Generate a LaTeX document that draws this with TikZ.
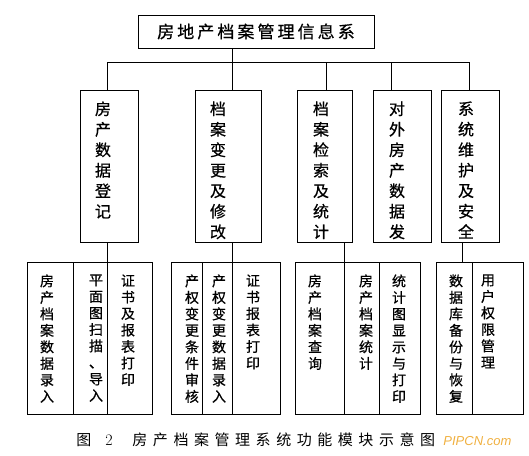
\documentclass[tikz,border=0pt]{standalone}
\usepackage{fontspec}
\newfontfamily\cjk[FakeBold=0.6]{Noto Sans CJK SC}
\newfontfamily\cjktitle[LetterSpace=18,FakeBold=0.6]{Noto Sans CJK SC}
\newfontfamily\cjkcap[LetterSpace=37]{Noto Sans CJK SC}
\newfontfamily\cjkplain{Noto Sans CJK SC}
\setsansfont{Liberation Sans}
\definecolor{wmcol}{RGB}{240,176,64}
\begin{document}
\begin{tikzpicture}[x=1pt,y=-1pt,line width=0.9pt,
  box/.style={draw,inner sep=0pt,anchor=north west},
  vt/.style={anchor=north,inner sep=0pt,align=center,font=\cjk\fontsize{16}{20.5}\selectfont},
  st/.style={anchor=north,inner sep=0pt,align=center,font=\cjk\fontsize{14}{16.5}\selectfont}]
\useasboundingbox (0,0) rectangle (529,455);
% top
\node[draw,inner sep=0pt,minimum width=236,minimum height=33,font=\cjktitle\fontsize{17}{17}\selectfont] (T) at (256,31.5) {房地产档案管理信息系};
% level 2 boxes
\node[box,minimum width=58,minimum height=152] (b1) at (80,90) {};
\node[box,minimum width=66,minimum height=152] (b2) at (195,90) {};
\node[box,minimum width=55,minimum height=152] (b3) at (297,90) {};
\node[box,minimum width=58,minimum height=152] (b4) at (373,90) {};
\node[box,minimum width=58,minimum height=152] (b5) at (441,90) {};
\node[vt] (t1) at (103,101) {房\\产\\数\\据\\登\\记};
\node[vt] (t2) at (218,101) {档\\案\\变\\更\\及\\修\\改};
\node[vt] (t3) at (321,101) {档\\案\\检\\索\\及\\统\\计};
\node[vt] (t4) at (397,101) {对\\外\\房\\产\\数\\据\\发};
\node[vt] (t5) at (466,101) {系\\统\\维\\护\\及\\安\\全};
% bottom groups
\node[box,minimum width=46,minimum height=152] (g11) at (27,262) {};
\node[box,minimum width=34,minimum height=152] (g12) at (73,262) {};
\node[box,minimum width=45,minimum height=152] (g13) at (107,262) {};
\node[box,minimum width=31,minimum height=152] (g21) at (171,262) {};
\node[box,minimum width=30,minimum height=152] (g22) at (202,262) {};
\node[box,minimum width=48,minimum height=152] (g23) at (232,262) {};
\node[box,minimum width=49,minimum height=152] (g31) at (295,262) {};
\node[box,minimum width=35,minimum height=152] (g32) at (344,262) {};
\node[box,minimum width=41,minimum height=152] (g33) at (379,262) {};
\node[box,minimum width=36,minimum height=152] (g41) at (436,262) {};
\node[box,minimum width=51,minimum height=152] (g42) at (472,262) {};
\node[st] (s11) at (47,274) {房\\产\\档\\案\\数\\据\\录\\入};
\node[st] (s12) at (96,274) {平\\面\\图\\扫\\描\\、\\导\\入};
\node[st] (s13) at (128,274) {证\\书\\及\\报\\表\\打\\印};
\node[st] (s21) at (192,274) {产\\权\\变\\更\\条\\件\\审\\核};
\node[st] (s22) at (219,274) {产\\权\\变\\更\\数\\据\\录\\入};
\node[st] (s23) at (253,274) {证\\书\\报\\表\\打\\印};
\node[st] (s31) at (315,274) {房\\产\\档\\案\\查\\询};
\node[st] (s32) at (366,274) {房\\产\\档\\案\\统\\计};
\node[st] (s33) at (399,274) {统\\计\\图\\显\\示\\与\\打\\印};
\node[st] (s41) at (456,274) {数\\据\\库\\备\\份\\与\\恢\\复};
\node[st] (s42) at (488,274) {用\\户\\权\\限\\管\\理};
% connectors
\coordinate (busL) at (107,62);
\coordinate (busR) at (469,62);
\coordinate (k3) at (326,62);
\coordinate (k4) at (391,62);
\coordinate (k5) at (462,250);
\draw (busL) -- (busR);
\draw (T.south -| g22.north east) -- (b2.north -| g22.north east);
\draw (busL) -- (b1.north -| busL);
\draw (k3) -- (b3.north -| k3);
\draw (k4) -- (b4.north -| k4);
\draw (busR) -- (b5.north -| busR);
\draw (b1.south -| g12.north east) -- (g12.north east);
\draw (b2.south -| g22.north east) -- (g22.north east);
\draw (b3.south -| g31.north east) -- (g31.north east);
\draw (b5.south -| k5) -- (g41.north -| k5);
% caption
\node[anchor=west,inner sep=0pt] (cap) at (76,440) {\makebox[29pt][l]{\cjkplain\fontsize{15}{15}\selectfont 图}\makebox[27pt][l]{\fontsize{16}{16}\selectfont 2}{\cjkcap\fontsize{15}{15}\selectfont 房产档案管理系统功能模块示意图}};
\node[anchor=west,inner sep=0pt,text=wmcol,font=\sffamily\itshape\fontsize{13}{13}\selectfont] (wm) at (443,441) {PIPCN.com};
\end{tikzpicture}
\end{document}
